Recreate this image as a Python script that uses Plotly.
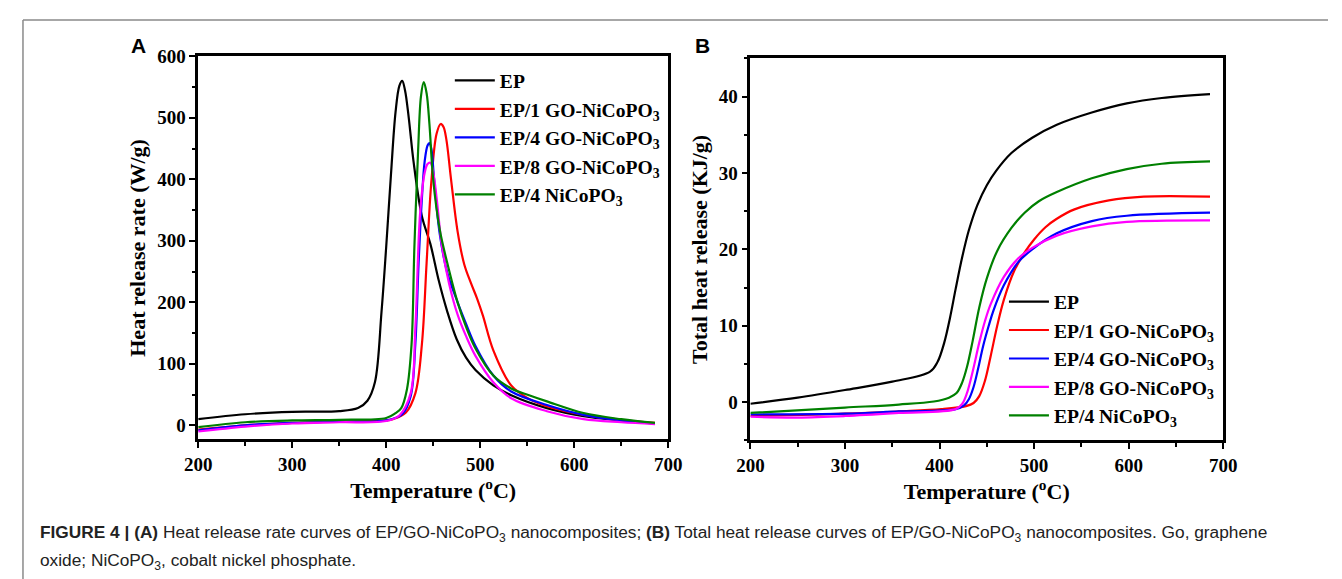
"""
Heat release curves of EP/GO-NiCoPO3 nanocomposites (HRR and THR panels)
"""

import plotly.graph_objects as go

# ---- datos ----
names = ["EP", "EP/1 GO-NiCoPO<sub>3</sub>", "EP/4 GO-NiCoPO<sub>3</sub>",
         "EP/8 GO-NiCoPO<sub>3</sub>", "EP/4 NiCoPO<sub>3</sub>"]
colors = ["#000000", "#FF0000", "#0000FF", "#FF00FF", "#008000"]

# Panel A: heat release rate (W/g)
hrr_ep_t = [200, 250, 300, 350, 370, 380, 388, 395, 400, 405, 410, 414, 417, 420, 424, 429,
            438, 447, 456, 465, 475, 485, 495, 514, 533, 571, 610, 650, 686]
hrr_ep = [10, 18, 22, 23, 28, 40, 70, 184, 290, 406, 510, 552, 560, 545, 500, 430,
          340, 295, 235, 185, 140, 110, 90, 65, 49, 28, 15, 8, 3]

hrr_1go_t = [200, 250, 300, 350, 400, 407, 421, 431, 438, 443, 448, 453.6, 458, 461, 464,
             469, 476, 483, 490, 497, 503, 514, 533, 552, 571, 610, 650, 686]
hrr_1go = [-7, 0, 4, 6, 8, 10, 21, 52, 132, 264, 395, 474, 490, 485, 465,
           400, 315, 262, 232, 205, 178, 122, 65, 43, 31, 17, 9, 4]

hrr_4go_t = [200, 250, 300, 350, 400, 417, 426, 431, 434.5, 438, 441, 444, 446, 448, 451,
             457, 465, 476, 485, 495, 514, 533, 571, 610, 650, 686]
hrr_4go = [-8, 0, 4, 6, 8, 18, 47, 132, 264, 369, 430, 455, 459, 450, 400,
           311, 248, 200, 165, 129, 81, 55, 33, 17, 8, 3]

hrr_8go_t = [200, 250, 300, 350, 400, 414, 426, 431, 436, 441, 444, 447, 450, 454, 459, 467,
             476, 485, 495, 514, 533, 571, 610, 650, 686]
hrr_8go = [-10, -2, 3, 5, 7, 16, 52, 158, 343, 411, 425, 427, 412, 365, 295, 230,
           180, 145, 113, 70, 44, 23, 10, 5, 2]

hrr_4ni_t = [200, 250, 300, 350, 400, 410, 416, 422, 427, 430, 434, 437, 440, 443, 446,
             450, 457, 465, 476, 485, 495, 514, 533, 552, 571, 610, 650, 686]
hrr_4ni = [-3, 5, 8, 9, 12, 20, 28, 58, 132, 290, 448, 535, 558, 540, 490,
           400, 318, 264, 200, 160, 125, 81, 60, 49, 39, 20, 10, 4]

# Panel B: total heat release (KJ/g)
thr_ep_t = [200, 250, 300, 350, 390, 398, 405, 411, 417, 424, 431, 440, 450, 460, 476,
            498, 524, 561, 598, 635, 686]
thr_ep = [-0.2, 0.6, 1.6, 2.7, 4.0, 5.3, 7.8, 11.0, 14.8, 19.0, 22.5, 25.8, 28.4, 30.3, 32.6,
          34.6, 36.3, 37.9, 39.1, 39.8, 40.3]

thr_1go_t = [200, 300, 357, 402, 428, 436, 442, 448, 454, 461, 468, 479, 490, 500, 512,
             524, 542, 579, 616, 686]
thr_1go = [-1.8, -1.5, -1.2, -0.9, -0.5, -0.1, 0.8, 2.8, 6.0, 10.0, 13.4, 17.2, 19.6, 21.3, 22.9,
           24.0, 25.2, 26.4, 26.9, 26.9]

thr_4go_t = [200, 300, 357, 417, 426, 431, 436, 441, 446, 452, 457, 468, 483, 498, 524,
             561, 598, 686]
thr_4go = [-1.6, -1.5, -1.2, -0.9, -0.4, 0.4, 2.0, 4.5, 7.3, 10.0, 12.0, 15.3, 18.3, 20.0, 22.1,
           23.7, 24.4, 24.8]

thr_8go_t = [200, 250, 300, 357, 417, 424, 429, 435, 442, 448, 454, 468, 483, 498, 524,
             561, 598, 686]
thr_8go = [-1.9, -2.0, -1.8, -1.4, -0.9, -0.2, 1.2, 4.0, 7.8, 10.6, 12.8, 16.4, 18.8, 20.2, 21.8,
           23.0, 23.6, 23.8]

thr_4ni_t = [200, 300, 357, 394, 410, 418, 424, 429, 435, 442, 450, 461, 476, 490, 505,
             524, 561, 598, 635, 686]
thr_4ni = [-1.4, -0.7, -0.3, 0.1, 0.6, 1.2, 2.6, 4.6, 8.0, 12.4, 16.2, 19.8, 22.8, 24.8, 26.3,
           27.5, 29.3, 30.5, 31.2, 31.5]

x_ticks = [200, 300, 400, 500, 600, 700]

# la pagina html tiene 8 px de margen en el body
OFF = 8
W, H = 1342 - OFF, 579 - OFF
SERIF = "Liberation Serif, Times New Roman, serif"
SANS = "Liberation Sans, Arial, sans-serif"

hrr_series = [(hrr_ep_t, hrr_ep), (hrr_1go_t, hrr_1go), (hrr_4go_t, hrr_4go),
              (hrr_8go_t, hrr_8go), (hrr_4ni_t, hrr_4ni)]
thr_series = [(thr_ep_t, thr_ep), (thr_1go_t, thr_1go), (thr_4go_t, thr_4go),
              (thr_8go_t, thr_8go), (thr_4ni_t, thr_4ni)]


def px_x(p):
    """coordenada x de la pagina -> papel"""
    return (p - OFF) / W


def px_y(p):
    """coordenada y de la pagina -> papel"""
    return 1 - (p - OFF) / H


fig = go.Figure()

for (t, v), nombre, color in zip(hrr_series, names, colors):
    fig.add_trace(go.Scatter(x=t, y=v, name=nombre, mode="lines",
                             line=dict(color=color, width=2.2, shape="spline", smoothing=1.0),
                             xaxis="x", yaxis="y", legend="legend"))

for (t, v), nombre, color in zip(thr_series, names, colors):
    fig.add_trace(go.Scatter(x=t, y=v, name=nombre, mode="lines",
                             line=dict(color=color, width=2.2, shape="spline", smoothing=1.0),
                             xaxis="x2", yaxis="y2", legend="legend2"))


def eje(dominio, rango, dtick, titulo, ancla, **extra):
    """Estilo comun de los ejes (Origin-like)"""
    return dict(
        domain=dominio, range=rango, dtick=dtick, anchor=ancla,
        showline=True, linecolor="black", linewidth=2.5, mirror=True,
        ticks="outside", ticklen=6, tickwidth=2, tickcolor="black",
        minor=dict(ticks="outside", ticklen=3.5, tickwidth=1.5, tickcolor="black",
                   dtick=dtick / 2),
        showgrid=False, zeroline=False,
        tickfont=dict(family=SERIF, size=19, color="black", weight="bold"),
        title=dict(text=titulo, standoff=6,
                   font=dict(family=SERIF, size=22, color="black", weight="bold")),
        **extra
    )


def eje_superior(dominio, ancla_x):
    """Ticks hacia dentro en el borde superior"""
    return dict(domain=dominio, range=[200, 700], dtick=100, overlaying=ancla_x,
                side="top", showticklabels=False, showgrid=False, zeroline=False,
                ticks="inside", ticklen=5, tickwidth=2, tickcolor="black",
                minor=dict(ticks="inside", ticklen=3, tickwidth=1.5,
                           tickcolor="black", dtick=50))


dom_a = [px_x(188), px_x(668)]
dom_b = [px_x(752), px_x(1235)]
legend_font = dict(family=SERIF, size=19.6, color="black", weight="bold")

fig.update_layout(
    width=W, height=H,
    margin=dict(l=0, r=0, t=0, b=0),
    plot_bgcolor="white", paper_bgcolor="white",
    xaxis=eje(dom_a, [200, 700], 100, "Temperature (<sup>o</sup>C)", "y",
              tickvals=x_ticks),
    yaxis=eje([px_y(437), px_y(47)], [-23, 600], 100,
              "Heat release rate (W/g)", "x"),
    xaxis2=eje(dom_b, [200, 700], 100, "Temperature (<sup>o</sup>C)", "y2",
               tickvals=x_ticks),
    yaxis2=eje([px_y(438), px_y(49)], [-5, 45], 10,
               "Total heat release (KJ/g)", "x2"),
    xaxis3=eje_superior(dom_a, "x"),
    xaxis4=eje_superior(dom_b, "x2"),
    legend=dict(x=px_x(445), y=px_y(52), xanchor="left", yanchor="top",
                bgcolor="rgba(0,0,0,0)", itemwidth=40, tracegroupgap=0,
                font=legend_font),
    legend2=dict(x=px_x(1011), y=px_y(277), xanchor="left", yanchor="top",
                 bgcolor="rgba(0,0,0,0)", itemwidth=40, tracegroupgap=0,
                 font=legend_font),
    showlegend=True,
)

# etiquetas de panel
for letra, xp in [("A", 127), ("B", 703)]:
    fig.add_annotation(text="<b>%s</b>" % letra, x=px_x(xp), y=px_y(36),
                       xref="paper", yref="paper", xanchor="center", yanchor="middle",
                       showarrow=False, font=dict(family=SANS, size=21, color="black"))

# pie de figura
caption_font = dict(family=SANS, size=17.3, color="#222")
fig.add_annotation(
    text="<b>FIGURE 4 | (A)</b> Heat release rate curves of EP/GO-NiCoPO<sub>3</sub> "
         "nanocomposites; <b>(B)</b> Total heat release curves of EP/GO-NiCoPO<sub>3</sub> "
         "nanocomposites. Go, graphene",
    x=px_x(24), y=px_y(533), xref="paper", yref="paper", xanchor="left",
    yanchor="middle", showarrow=False, font=caption_font)
fig.add_annotation(
    text="oxide; NiCoPO<sub>3</sub>, cobalt nickel phosphate.",
    x=px_x(24), y=px_y(561), xref="paper", yref="paper", xanchor="left",
    yanchor="middle", showarrow=False, font=caption_font)

# marco gris de la pagina
fig.add_shape(type="line", xref="paper", yref="paper", x0=px_x(9), x1=1,
              y0=px_y(10), y1=px_y(10), line=dict(color="#8a8a8a", width=1.5))
fig.add_shape(type="line", xref="paper", yref="paper", x0=px_x(9), x1=px_x(9),
              y0=px_y(10), y1=0, line=dict(color="#8a8a8a", width=1.5))

fig.write_html("out.html")
